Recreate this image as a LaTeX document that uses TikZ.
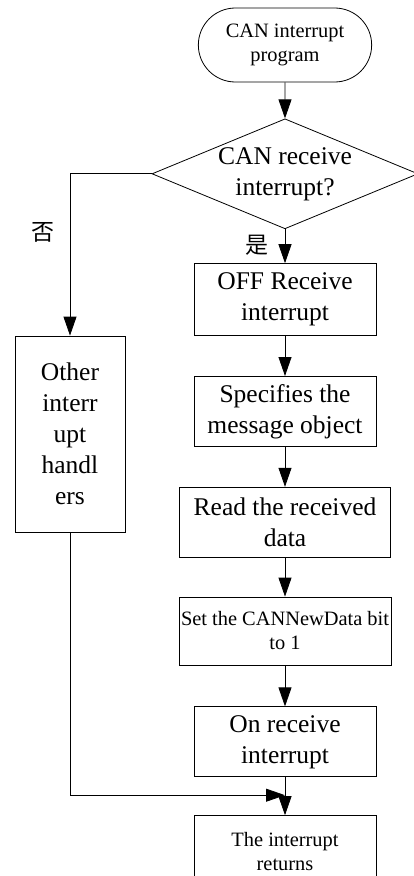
\documentclass[tikz,border=0pt]{standalone}
\usepackage{fontspec}
\setmainfont{Liberation Serif}
\newfontfamily\cjk{Noto Sans CJK SC}
\usetikzlibrary{arrows.meta, positioning, shapes.geometric, shapes.misc}

\tikzset{
	block/.style = {draw, rectangle, minimum width=182pt, minimum height=70pt, inner sep=2pt, align=center, font=\fontsize{25.5}{31}\selectfont},
	smallblock/.style = {block, font=\fontsize{20.4}{24}\selectfont},
	startstop/.style = {draw, rounded rectangle, minimum width=180pt, minimum height=74pt, align=center, font=\fontsize{20.4}{24}\selectfont},
	decision/.style = {draw, diamond, aspect=2.4, inner sep=-3pt, minimum width=266pt, minimum height=110pt, align=center, font=\fontsize{25.5}{31}\selectfont},
	lbl/.style = {font=\cjk\fontsize{23}{23}\selectfont, inner sep=0pt}
}

\begin{document}
\begin{tikzpicture}[x=1pt, y=1pt, ->, > = {Triangle[length=19pt, width=13pt]}, node distance = 40pt, line width=0.8pt]

\useasboundingbox (0,0) rectangle (414,-876);

\node[startstop]								(start)	at (285,-45)			{CAN interrupt\\program};
\node[decision]									(dec)	[below=36pt of start]	{CAN receive\\interrupt?};
\node[block, minimum height=72pt]				(off)	[below=34pt of dec]		{OFF Receive\\interrupt};
\node[block]									(spec)	[below=of off]			{Specifies the\\message object};
\node[block, minimum width=211pt]				(read)	[below=of spec]			{Read the received\\data};
\node[smallblock, minimum width=212pt, minimum height=68pt]	(set)	[below=39pt of read]	{Set the CANNewData bit\\to 1};
\node[block]									(on)	[below=41pt of set]		{On receive\\interrupt};
\node[smallblock, minimum height=72pt]			(ret)	[below=38pt of on]		{The interrupt\\returns};

\node[block, minimum width=110pt, minimum height=196pt]	(other)	at (70,-434)	{Other\\interr\\upt\\handl\\ers};

\node[lbl]										(no)	at (43,-232)			{否};
\node[lbl]										(yes)	at (257,-245)			{是};

\coordinate (join) at ([yshift=-18pt]on.south);

\path	(start)	edge	(dec);
\path	(dec)	edge	(off);
\path	(off)	edge	(spec);
\path	(spec)	edge	(read);
\path	(read)	edge	(set);
\path	(set)	edge	(on);
\path	(on)	edge	(ret);

\draw	(dec.west)	-|	(other);
\draw	(other)		|-	(join);

\end{tikzpicture}
\end{document}
